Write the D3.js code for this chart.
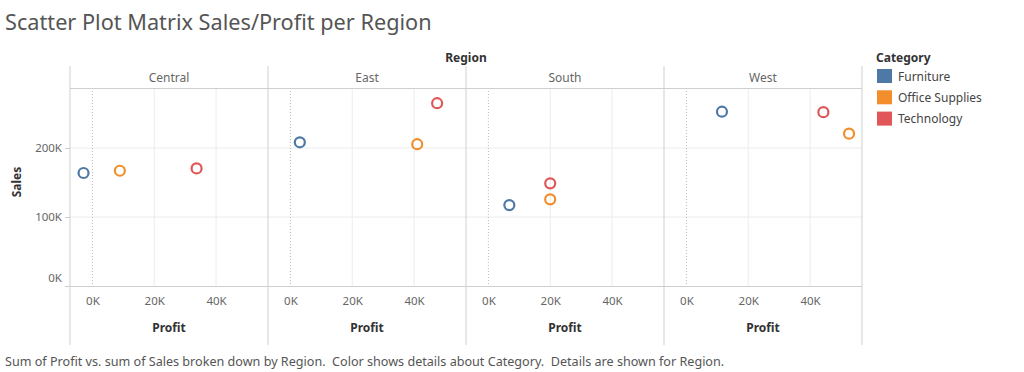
<!DOCTYPE html>
<html>
<head>
<meta charset="utf-8">
<script src="https://cdn.jsdelivr.net/npm/d3@7"></script>
<style>
  body { margin: 0; background: #fff; }
  svg text { font-family: "Noto Sans", sans-serif; }
</style>
</head>
<body>
<svg id="chart" width="1024" height="372"></svg>
<script>
// data
var regions = ["Central", "East", "South", "West"];
var categories = ["Furniture", "Office Supplies", "Technology"];
var colors = ["#4e79a7", "#f28e2b", "#e15759"];
// profit and sales per region, one entry per category
var profit = {
  Central: [-2871, 8880, 33697],
  East: [3046, 41015, 47462],
  South: [6771, 19986, 19992],
  West: [11505, 52610, 44304]
};
var sales = {
  Central: [163797, 167026, 170416],
  East: [208291, 205516, 264974],
  South: [117299, 125651, 148772],
  West: [252613, 220853, 251992]
};
var xTicks = [0, 20000, 40000];
var yTicks = [0, 100000, 200000];

var svg = d3.select("#chart");
var kfmt = function(d) { return d3.format(",")(d / 1000) + "K"; };

var panel = d3.scaleBand().domain(regions).range([70, 862]);
var x = d3.scaleLinear().domain([-7250, 56800]).range([0, panel.bandwidth()]);
var y = d3.scaleLinear().domain([0, 287000]).range([286, 88]);
var color = d3.scaleOrdinal().domain(categories).range(colors);

// title + footer
svg.append("text").attr("x", 5).attr("y", 30)
  .attr("font-size", 21.7).attr("fill", "#555").text("Scatter Plot Matrix Sales/Profit per Region");
svg.append("text").attr("x", 5).attr("y", 366)
  .attr("font-size", 12.6).attr("fill", "#555")
  .attr("xml:space", "preserve")
  .text("Sum of Profit vs. sum of Sales broken down by Region.  Color shows details about Category.  Details are shown for Region.");

svg.append("text").attr("x", 466).attr("y", 62).attr("text-anchor", "middle")
  .attr("font-size", 12).attr("font-weight", "bold").attr("fill", "#333").text("Region");

// y gridlines across all panels
svg.append("g").selectAll("line").data(yTicks.slice(1)).join("line")
  .attr("x1", 70).attr("x2", 862)
  .attr("y1", d => y(d)).attr("y2", d => y(d))
  .attr("stroke", "#ececec");

regions.forEach(function(r) {
  var g = svg.append("g").attr("transform", "translate(" + panel(r) + ",0)");
  g.selectAll(".vg").data(xTicks.slice(1)).join("line")
    .attr("x1", d => x(d)).attr("x2", d => x(d))
    .attr("y1", 88).attr("y2", 286).attr("stroke", "#ececec");
  g.append("line").attr("x1", x(0)).attr("x2", x(0)).attr("y1", 88).attr("y2", 286)
    .attr("stroke", "#bbb").attr("stroke-dasharray", "1,2");
  g.append("text").attr("x", panel.bandwidth() / 2).attr("y", 82).attr("text-anchor", "middle")
    .attr("font-size", 12).attr("fill", "#666").text(r);

  var xa = g.append("g").attr("transform", "translate(0,286)")
    .call(d3.axisBottom(x).tickValues(xTicks).tickFormat(kfmt).tickSize(0).tickPadding(11));
  xa.select(".domain").remove();
  xa.selectAll("text").attr("font-size", 11.5).attr("fill", "#666").attr("font-family", "Noto Sans");

  g.append("text").attr("x", panel.bandwidth() / 2).attr("y", 332).attr("text-anchor", "middle")
    .attr("font-size", 12).attr("font-weight", "bold").attr("fill", "#333").text("Profit");

  g.selectAll("circle").data(categories).join("circle")
    .attr("cx", (c, i) => x(profit[r][i]))
    .attr("cy", (c, i) => y(sales[r][i]))
    .attr("r", 5)
    .attr("fill", "none")
    .attr("stroke", c => color(c))
    .attr("stroke-width", 2.2);
});

// frame lines
svg.append("g").selectAll("line").data(regions.map(r => panel(r)).concat([862])).join("line")
  .attr("x1", d => d).attr("x2", d => d).attr("y1", 66).attr("y2", 345)
  .attr("stroke", "#cfcfcf");
svg.append("line").attr("x1", 70).attr("x2", 862).attr("y1", 88.5).attr("y2", 88.5).attr("stroke", "#cfcfcf");
svg.append("line").attr("x1", 65).attr("x2", 862).attr("y1", 286.5).attr("y2", 286.5).attr("stroke", "#cfcfcf");

// y axis
var ya = svg.append("g").attr("transform", "translate(70,0)")
  .call(d3.axisLeft(y).tickValues(yTicks).tickFormat(kfmt).tickSize(5).tickPadding(3));
ya.select(".domain").remove();
ya.selectAll("line").attr("stroke", "#cfcfcf");
ya.selectAll("text").attr("font-size", 11.5).attr("fill", "#666").attr("font-family", "Noto Sans");
ya.selectAll(".tick").filter(d => d === 0).select("text").attr("dy", "-0.4em");

svg.append("text").attr("transform", "translate(21,182) rotate(-90)").attr("text-anchor", "middle")
  .attr("font-size", 12).attr("font-weight", "bold").attr("fill", "#333").text("Sales");

// legend
svg.append("text").attr("x", 876).attr("y", 62)
  .attr("font-size", 12).attr("font-weight", "bold").attr("fill", "#333").text("Category");
var lg = svg.append("g").selectAll("g").data(categories).join("g")
  .attr("transform", (d, i) => "translate(877," + (69 + i * 21.3) + ")");
lg.append("rect").attr("width", 15).attr("height", 14).attr("fill", d => color(d));
lg.append("text").attr("x", 21).attr("y", 11.5).attr("font-size", 12).attr("fill", "#444").text(d => d);
</script>
</body>
</html>
